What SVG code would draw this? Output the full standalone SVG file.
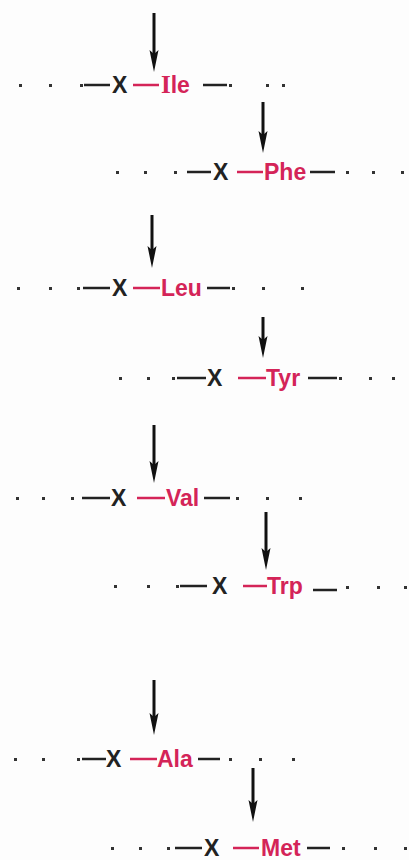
<svg xmlns="http://www.w3.org/2000/svg" width="409" height="860" viewBox="0 0 409 860">
<style>
.t{font-family:"Liberation Sans",Arial,sans-serif;font-size:23px;font-weight:bold}
.x{fill:#222}
.r{fill:#d42458}
.serif{font-family:"Liberation Serif","Times New Roman",serif;font-size:25px}
.bd{stroke:#222;stroke-width:2.5}
.rd{stroke:#d42458;stroke-width:2.5}
.dot{fill:#333}
.arr{stroke:#111;stroke-width:3}
.ah{fill:#111}
</style>
<rect width="409" height="860" fill="#fdfdfd"/>
<g id="connectors">
<line class="arr" x1="154" y1="13" x2="154" y2="55"/><path class="ah" d="M149.5,50 L154,72 L158.5,50 L154,54 z"/>
<line class="arr" x1="263" y1="102" x2="263" y2="136"/><path class="ah" d="M258.5,131 L263,153 L267.5,131 L263,135 z"/>
<line class="arr" x1="152" y1="215" x2="152" y2="251"/><path class="ah" d="M147.5,246 L152,268 L156.5,246 L152,250 z"/>
<line class="arr" x1="263" y1="317" x2="263" y2="341"/><path class="ah" d="M258.5,336 L263,358 L267.5,336 L263,340 z"/>
<line class="arr" x1="154" y1="425" x2="154" y2="466"/><path class="ah" d="M149.5,461 L154,483 L158.5,461 L154,465 z"/>
<line class="arr" x1="266" y1="512" x2="266" y2="553"/><path class="ah" d="M261.5,548 L266,570 L270.5,548 L266,552 z"/>
<line class="arr" x1="154" y1="680" x2="154" y2="718"/><path class="ah" d="M149.5,713 L154,735 L158.5,713 L154,717 z"/>
<line class="arr" x1="253" y1="768" x2="253" y2="805"/><path class="ah" d="M248.5,800 L253,822 L257.5,800 L253,804 z"/>
</g>
<g id="ile">
<rect class="dot" x="19" y="84" width="3" height="3"/><rect class="dot" x="49" y="84" width="3" height="3"/><rect class="dot" x="80" y="84" width="3" height="3"/>
<line class="bd" x1="84" y1="85" x2="110" y2="85"/>
<text class="t x" x="112" y="93">X</text>
<line class="rd" x1="133" y1="85" x2="159" y2="85"/>
<text class="t r" x="161" y="93"><tspan class="serif">I</tspan>le</text>
<line class="bd" x1="203" y1="85" x2="227" y2="85"/>
<rect class="dot" x="229" y="84" width="3" height="3"/><rect class="dot" x="266" y="84" width="3" height="3"/><rect class="dot" x="282" y="84" width="3" height="3"/>
</g>
<g id="phe">
<rect class="dot" x="116" y="171" width="3" height="3"/><rect class="dot" x="144" y="171" width="3" height="3"/><rect class="dot" x="174" y="171" width="3" height="3"/>
<line class="bd" x1="187" y1="172" x2="211" y2="172"/>
<text class="t x" x="213" y="180">X</text>
<line class="rd" x1="237" y1="172" x2="263" y2="172"/>
<text class="t r" x="264" y="180">Phe</text>
<line class="bd" x1="310" y1="172" x2="335" y2="172"/>
<rect class="dot" x="346" y="171" width="3" height="3"/><rect class="dot" x="372" y="171" width="3" height="3"/><rect class="dot" x="401" y="171" width="3" height="3"/>
</g>
<g id="leu">
<rect class="dot" x="17" y="287" width="3" height="3"/><rect class="dot" x="49" y="287" width="3" height="3"/><rect class="dot" x="77" y="287" width="3" height="3"/>
<line class="bd" x1="83" y1="288" x2="110" y2="288"/>
<text class="t x" x="112" y="296">X</text>
<line class="rd" x1="133" y1="288" x2="160" y2="288"/>
<text class="t r" x="161" y="296">Leu</text>
<line class="bd" x1="207" y1="288" x2="230" y2="288"/>
<rect class="dot" x="232" y="287" width="3" height="3"/><rect class="dot" x="262" y="287" width="3" height="3"/><rect class="dot" x="301" y="287" width="3" height="3"/>
</g>
<g id="tyr">
<rect class="dot" x="119" y="377" width="3" height="3"/><rect class="dot" x="147" y="377" width="3" height="3"/><rect class="dot" x="172" y="377" width="3" height="3"/>
<line class="bd" x1="177" y1="378" x2="206" y2="378"/>
<text class="t x" x="207" y="386">X</text>
<line class="rd" x1="238" y1="378" x2="266" y2="378"/>
<text class="t r" x="266" y="386">Tyr</text>
<line class="bd" x1="308" y1="378" x2="337" y2="378"/>
<rect class="dot" x="339" y="377" width="3" height="3"/><rect class="dot" x="369" y="377" width="3" height="3"/><rect class="dot" x="392" y="377" width="3" height="3"/>
</g>
<g id="val">
<rect class="dot" x="16" y="497" width="3" height="3"/><rect class="dot" x="42" y="497" width="3" height="3"/><rect class="dot" x="71" y="497" width="3" height="3"/>
<line class="bd" x1="82" y1="498" x2="110" y2="498"/>
<text class="t x" x="111" y="506">X</text>
<line class="rd" x1="137" y1="498" x2="165" y2="498"/>
<text class="t r" x="166" y="506">Val</text>
<line class="bd" x1="204" y1="498" x2="230" y2="498"/>
<rect class="dot" x="236" y="497" width="3" height="3"/><rect class="dot" x="266" y="497" width="3" height="3"/><rect class="dot" x="299" y="497" width="3" height="3"/>
</g>
<g id="trp">
<rect class="dot" x="114" y="585" width="3" height="3"/><rect class="dot" x="147" y="585" width="3" height="3"/><rect class="dot" x="176" y="585" width="3" height="3"/>
<line class="bd" x1="180" y1="586" x2="207" y2="586"/>
<text class="t x" x="212" y="594">X</text>
<line class="rd" x1="243" y1="586" x2="267" y2="586"/>
<text class="t r" x="267" y="594">Trp</text>
<line class="bd" x1="313" y1="590" x2="337" y2="590"/>
<rect class="dot" x="346" y="586" width="3" height="3"/><rect class="dot" x="377" y="586" width="3" height="3"/><rect class="dot" x="404" y="586" width="3" height="3"/>
</g>
<g id="ala">
<rect class="dot" x="14" y="758" width="3" height="3"/><rect class="dot" x="42" y="758" width="3" height="3"/><rect class="dot" x="77" y="758" width="3" height="3"/>
<line class="bd" x1="82" y1="759" x2="106" y2="759"/>
<text class="t x" x="106" y="767">X</text>
<line class="rd" x1="130" y1="759" x2="157" y2="759"/>
<text class="t r" x="157" y="767">Ala</text>
<line class="bd" x1="198" y1="759" x2="220" y2="759"/>
<rect class="dot" x="229" y="758" width="3" height="3"/><rect class="dot" x="259" y="758" width="3" height="3"/><rect class="dot" x="292" y="758" width="3" height="3"/>
</g>
<g id="met">
<rect class="dot" x="111" y="847" width="3" height="3"/><rect class="dot" x="139" y="847" width="3" height="3"/><rect class="dot" x="167" y="847" width="3" height="3"/>
<line class="bd" x1="175" y1="848" x2="202" y2="848"/>
<text class="t x" x="204" y="856">X</text>
<line class="rd" x1="233" y1="848" x2="259" y2="848"/>
<text class="t r" x="261" y="856">Met</text>
<line class="bd" x1="307" y1="848" x2="330" y2="848"/>
<rect class="dot" x="342" y="847" width="3" height="3"/><rect class="dot" x="374" y="847" width="3" height="3"/><rect class="dot" x="404" y="847" width="3" height="3"/>
</g>
</svg>
